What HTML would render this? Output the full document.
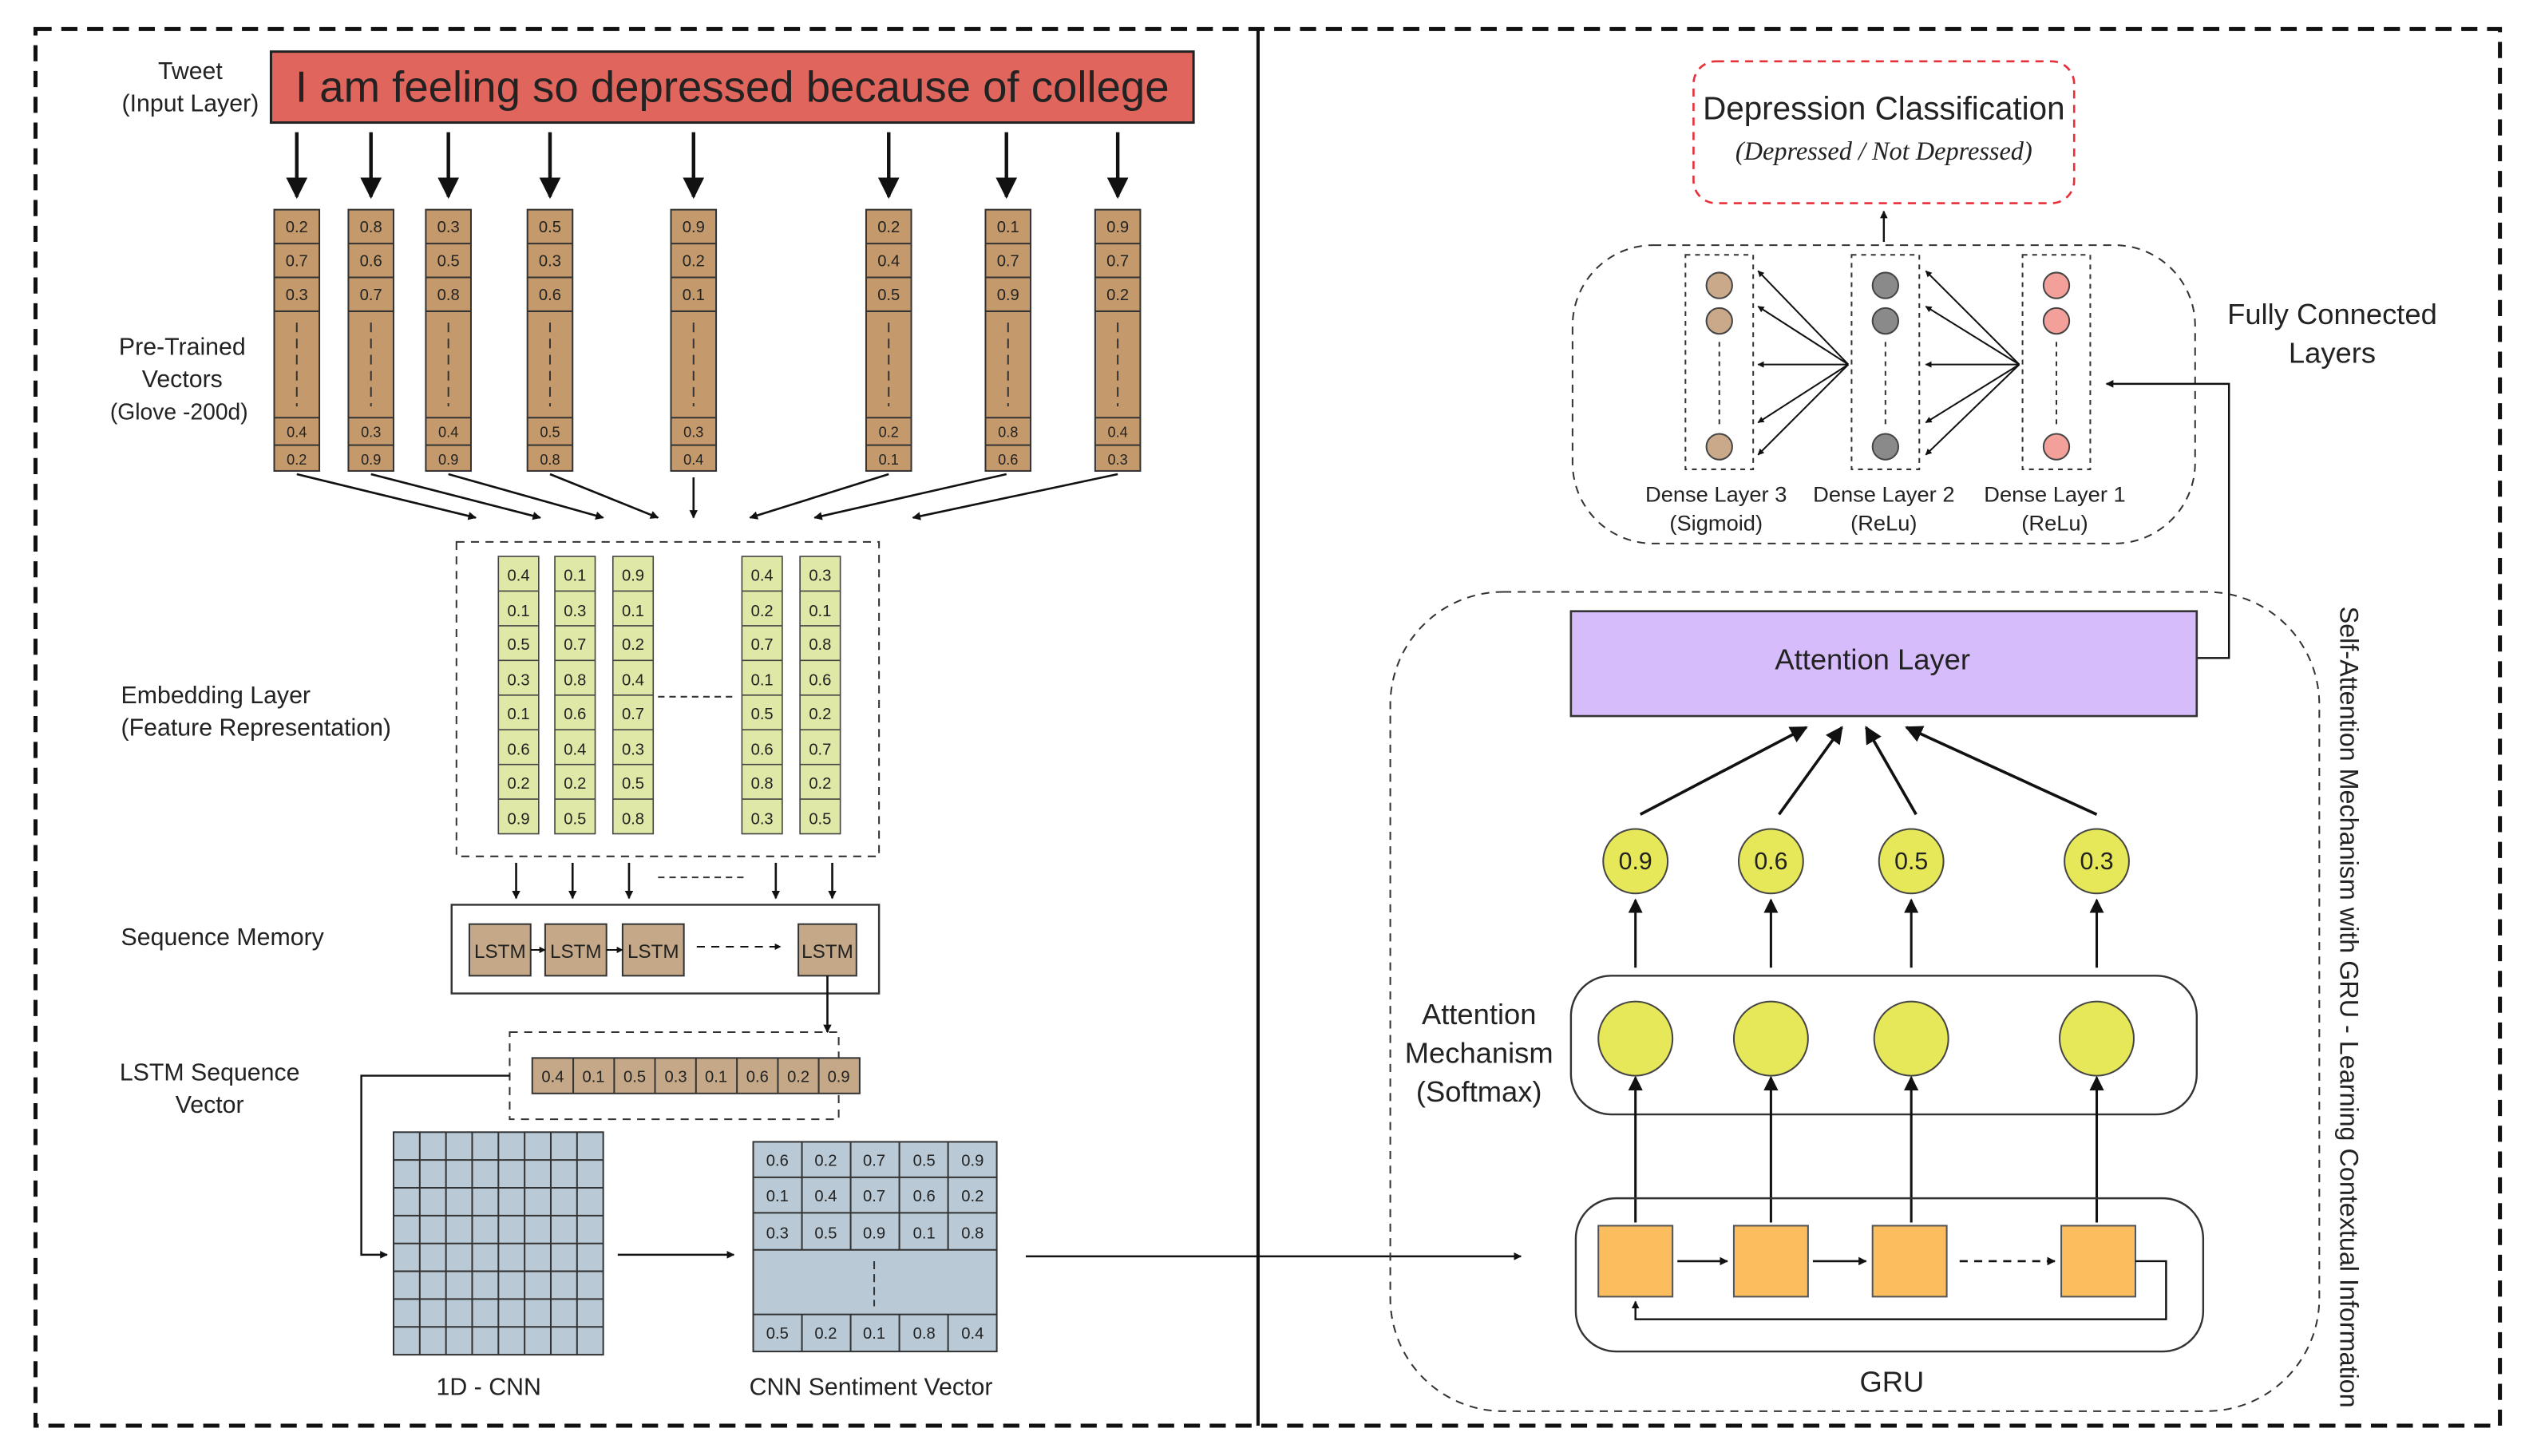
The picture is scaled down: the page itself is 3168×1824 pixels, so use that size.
<!DOCTYPE html>
<html><head><meta charset="utf-8"><style>
html,body{margin:0;padding:0;background:#fff}
svg{display:block}
text{font-family:"Liberation Sans",sans-serif;fill:#222}
</style></head><body>
<svg width="3168" height="1824" viewBox="0 0 1568 902.8" xmlns="http://www.w3.org/2000/svg">
<defs>
<marker id="a" viewBox="0 0 10 10" refX="9" refY="5" markerWidth="6" markerHeight="6" orient="auto-start-reverse"><path d="M0,0L10,5L0,10z" fill="#111"/></marker>
<marker id="b" viewBox="0 0 10 10" refX="9" refY="5" markerWidth="4" markerHeight="4" orient="auto-start-reverse"><path d="M0,0L10,5L0,10z" fill="#111"/></marker>
</defs>
<rect x="22" y="18" width="1528" height="866" fill="none" stroke="#111" stroke-width="2.5" stroke-dasharray="10,6"/>
<line x1="780" y1="18" x2="780" y2="884" stroke="#111" stroke-width="2"/>

<!-- Tweet -->
<text x="118" y="49" font-size="15" text-anchor="middle">Tweet</text>
<text x="118" y="69" font-size="15" text-anchor="middle">(Input Layer)</text>
<rect x="168" y="32" width="572" height="44" fill="#e0655c" stroke="#222" stroke-width="1.5"/>
<text x="454" y="63" font-size="27" text-anchor="middle" fill="#111">I am feeling so depressed because of college</text>
<g stroke="#111" stroke-width="2.2" marker-end="url(#a)">
<line x1="184" y1="82" x2="184" y2="122"/><line x1="230" y1="82" x2="230" y2="122"/><line x1="278" y1="82" x2="278" y2="122"/><line x1="341" y1="82" x2="341" y2="122"/><line x1="430" y1="82" x2="430" y2="122"/><line x1="551" y1="82" x2="551" y2="122"/><line x1="624" y1="82" x2="624" y2="122"/><line x1="693" y1="82" x2="693" y2="122"/>
</g>

<text x="113" y="220" font-size="15" text-anchor="middle">Pre-Trained</text>
<text x="113" y="240" font-size="15" text-anchor="middle">Vectors</text>
<text x="111" y="260" font-size="14" text-anchor="middle">(Glove -200d)</text>

<g font-size="10" text-anchor="middle">
<!-- pretrained columns -->
<g id="pc">
</g>
</g>
<g stroke="#333" stroke-width="1" font-size="10" text-anchor="middle">
<!-- col template via repeated groups -->
<g transform="translate(170,130)"><rect width="28" height="162" fill="#c49a6c"/><line x1="0" y1="21" x2="28" y2="21"/><line x1="0" y1="42" x2="28" y2="42"/><line x1="0" y1="63" x2="28" y2="63"/><line x1="0" y1="129" x2="28" y2="129"/><line x1="0" y1="146" x2="28" y2="146"/><line x1="14" y1="70" x2="14" y2="122" stroke-dasharray="6,4"/><text x="14" y="14" stroke="none">0.2</text><text x="14" y="35" stroke="none">0.7</text><text x="14" y="56" stroke="none">0.3</text><text x="14" y="141" stroke="none" font-size="9">0.4</text><text x="14" y="158" stroke="none" font-size="9">0.2</text></g>
<g transform="translate(216,130)"><rect width="28" height="162" fill="#c49a6c"/><line x1="0" y1="21" x2="28" y2="21"/><line x1="0" y1="42" x2="28" y2="42"/><line x1="0" y1="63" x2="28" y2="63"/><line x1="0" y1="129" x2="28" y2="129"/><line x1="0" y1="146" x2="28" y2="146"/><line x1="14" y1="70" x2="14" y2="122" stroke-dasharray="6,4"/><text x="14" y="14" stroke="none">0.8</text><text x="14" y="35" stroke="none">0.6</text><text x="14" y="56" stroke="none">0.7</text><text x="14" y="141" stroke="none" font-size="9">0.3</text><text x="14" y="158" stroke="none" font-size="9">0.9</text></g>
<g transform="translate(264,130)"><rect width="28" height="162" fill="#c49a6c"/><line x1="0" y1="21" x2="28" y2="21"/><line x1="0" y1="42" x2="28" y2="42"/><line x1="0" y1="63" x2="28" y2="63"/><line x1="0" y1="129" x2="28" y2="129"/><line x1="0" y1="146" x2="28" y2="146"/><line x1="14" y1="70" x2="14" y2="122" stroke-dasharray="6,4"/><text x="14" y="14" stroke="none">0.3</text><text x="14" y="35" stroke="none">0.5</text><text x="14" y="56" stroke="none">0.8</text><text x="14" y="141" stroke="none" font-size="9">0.4</text><text x="14" y="158" stroke="none" font-size="9">0.9</text></g>
<g transform="translate(327,130)"><rect width="28" height="162" fill="#c49a6c"/><line x1="0" y1="21" x2="28" y2="21"/><line x1="0" y1="42" x2="28" y2="42"/><line x1="0" y1="63" x2="28" y2="63"/><line x1="0" y1="129" x2="28" y2="129"/><line x1="0" y1="146" x2="28" y2="146"/><line x1="14" y1="70" x2="14" y2="122" stroke-dasharray="6,4"/><text x="14" y="14" stroke="none">0.5</text><text x="14" y="35" stroke="none">0.3</text><text x="14" y="56" stroke="none">0.6</text><text x="14" y="141" stroke="none" font-size="9">0.5</text><text x="14" y="158" stroke="none" font-size="9">0.8</text></g>
<g transform="translate(416,130)"><rect width="28" height="162" fill="#c49a6c"/><line x1="0" y1="21" x2="28" y2="21"/><line x1="0" y1="42" x2="28" y2="42"/><line x1="0" y1="63" x2="28" y2="63"/><line x1="0" y1="129" x2="28" y2="129"/><line x1="0" y1="146" x2="28" y2="146"/><line x1="14" y1="70" x2="14" y2="122" stroke-dasharray="6,4"/><text x="14" y="14" stroke="none">0.9</text><text x="14" y="35" stroke="none">0.2</text><text x="14" y="56" stroke="none">0.1</text><text x="14" y="141" stroke="none" font-size="9">0.3</text><text x="14" y="158" stroke="none" font-size="9">0.4</text></g>
<g transform="translate(537,130)"><rect width="28" height="162" fill="#c49a6c"/><line x1="0" y1="21" x2="28" y2="21"/><line x1="0" y1="42" x2="28" y2="42"/><line x1="0" y1="63" x2="28" y2="63"/><line x1="0" y1="129" x2="28" y2="129"/><line x1="0" y1="146" x2="28" y2="146"/><line x1="14" y1="70" x2="14" y2="122" stroke-dasharray="6,4"/><text x="14" y="14" stroke="none">0.2</text><text x="14" y="35" stroke="none">0.4</text><text x="14" y="56" stroke="none">0.5</text><text x="14" y="141" stroke="none" font-size="9">0.2</text><text x="14" y="158" stroke="none" font-size="9">0.1</text></g>
<g transform="translate(611,130)"><rect width="28" height="162" fill="#c49a6c"/><line x1="0" y1="21" x2="28" y2="21"/><line x1="0" y1="42" x2="28" y2="42"/><line x1="0" y1="63" x2="28" y2="63"/><line x1="0" y1="129" x2="28" y2="129"/><line x1="0" y1="146" x2="28" y2="146"/><line x1="14" y1="70" x2="14" y2="122" stroke-dasharray="6,4"/><text x="14" y="14" stroke="none">0.1</text><text x="14" y="35" stroke="none">0.7</text><text x="14" y="56" stroke="none">0.9</text><text x="14" y="141" stroke="none" font-size="9">0.8</text><text x="14" y="158" stroke="none" font-size="9">0.6</text></g>
<g transform="translate(679,130)"><rect width="28" height="162" fill="#c49a6c"/><line x1="0" y1="21" x2="28" y2="21"/><line x1="0" y1="42" x2="28" y2="42"/><line x1="0" y1="63" x2="28" y2="63"/><line x1="0" y1="129" x2="28" y2="129"/><line x1="0" y1="146" x2="28" y2="146"/><line x1="14" y1="70" x2="14" y2="122" stroke-dasharray="6,4"/><text x="14" y="14" stroke="none">0.9</text><text x="14" y="35" stroke="none">0.7</text><text x="14" y="56" stroke="none">0.2</text><text x="14" y="141" stroke="none" font-size="9">0.4</text><text x="14" y="158" stroke="none" font-size="9">0.3</text></g>
</g>
<g stroke="#111" stroke-width="1.3" marker-end="url(#b)">
<line x1="184" y1="294" x2="295" y2="321"/><line x1="230" y1="294" x2="335" y2="321"/><line x1="278" y1="294" x2="374" y2="321"/><line x1="341" y1="294" x2="408" y2="321"/><line x1="430" y1="296" x2="430" y2="321"/><line x1="551" y1="294" x2="465" y2="321"/><line x1="624" y1="294" x2="505" y2="321"/><line x1="693" y1="294" x2="566" y2="321"/>
</g>

<!-- Embedding -->
<text x="75" y="436" font-size="15">Embedding Layer</text>
<text x="75" y="456" font-size="15">(Feature Representation)</text>
<rect x="283" y="336" width="262" height="195" fill="none" stroke="#333" stroke-dasharray="5,4"/>
<g stroke="#444" stroke-width="0.8" font-size="10" text-anchor="middle">
<g transform="translate(309,345)"><rect width="25" height="172" fill="#dfe8a6"/><line x1="0" y1="21.5" x2="25" y2="21.5"/><line x1="0" y1="43" x2="25" y2="43"/><line x1="0" y1="64.5" x2="25" y2="64.5"/><line x1="0" y1="86" x2="25" y2="86"/><line x1="0" y1="107.5" x2="25" y2="107.5"/><line x1="0" y1="129" x2="25" y2="129"/><line x1="0" y1="150.5" x2="25" y2="150.5"/><g stroke="none"><text x="12.5" y="15">0.4</text><text x="12.5" y="37">0.1</text><text x="12.5" y="58">0.5</text><text x="12.5" y="80">0.3</text><text x="12.5" y="101">0.1</text><text x="12.5" y="123">0.6</text><text x="12.5" y="144">0.2</text><text x="12.5" y="166">0.9</text></g></g>
<g transform="translate(344,345)"><rect width="25" height="172" fill="#dfe8a6"/><line x1="0" y1="21.5" x2="25" y2="21.5"/><line x1="0" y1="43" x2="25" y2="43"/><line x1="0" y1="64.5" x2="25" y2="64.5"/><line x1="0" y1="86" x2="25" y2="86"/><line x1="0" y1="107.5" x2="25" y2="107.5"/><line x1="0" y1="129" x2="25" y2="129"/><line x1="0" y1="150.5" x2="25" y2="150.5"/><g stroke="none"><text x="12.5" y="15">0.1</text><text x="12.5" y="37">0.3</text><text x="12.5" y="58">0.7</text><text x="12.5" y="80">0.8</text><text x="12.5" y="101">0.6</text><text x="12.5" y="123">0.4</text><text x="12.5" y="144">0.2</text><text x="12.5" y="166">0.5</text></g></g>
<g transform="translate(380,345)"><rect width="25" height="172" fill="#dfe8a6"/><line x1="0" y1="21.5" x2="25" y2="21.5"/><line x1="0" y1="43" x2="25" y2="43"/><line x1="0" y1="64.5" x2="25" y2="64.5"/><line x1="0" y1="86" x2="25" y2="86"/><line x1="0" y1="107.5" x2="25" y2="107.5"/><line x1="0" y1="129" x2="25" y2="129"/><line x1="0" y1="150.5" x2="25" y2="150.5"/><g stroke="none"><text x="12.5" y="15">0.9</text><text x="12.5" y="37">0.1</text><text x="12.5" y="58">0.2</text><text x="12.5" y="80">0.4</text><text x="12.5" y="101">0.7</text><text x="12.5" y="123">0.3</text><text x="12.5" y="144">0.5</text><text x="12.5" y="166">0.8</text></g></g>
<g transform="translate(460,345)"><rect width="25" height="172" fill="#dfe8a6"/><line x1="0" y1="21.5" x2="25" y2="21.5"/><line x1="0" y1="43" x2="25" y2="43"/><line x1="0" y1="64.5" x2="25" y2="64.5"/><line x1="0" y1="86" x2="25" y2="86"/><line x1="0" y1="107.5" x2="25" y2="107.5"/><line x1="0" y1="129" x2="25" y2="129"/><line x1="0" y1="150.5" x2="25" y2="150.5"/><g stroke="none"><text x="12.5" y="15">0.4</text><text x="12.5" y="37">0.2</text><text x="12.5" y="58">0.7</text><text x="12.5" y="80">0.1</text><text x="12.5" y="101">0.5</text><text x="12.5" y="123">0.6</text><text x="12.5" y="144">0.8</text><text x="12.5" y="166">0.3</text></g></g>
<g transform="translate(496,345)"><rect width="25" height="172" fill="#dfe8a6"/><line x1="0" y1="21.5" x2="25" y2="21.5"/><line x1="0" y1="43" x2="25" y2="43"/><line x1="0" y1="64.5" x2="25" y2="64.5"/><line x1="0" y1="86" x2="25" y2="86"/><line x1="0" y1="107.5" x2="25" y2="107.5"/><line x1="0" y1="129" x2="25" y2="129"/><line x1="0" y1="150.5" x2="25" y2="150.5"/><g stroke="none"><text x="12.5" y="15">0.3</text><text x="12.5" y="37">0.1</text><text x="12.5" y="58">0.8</text><text x="12.5" y="80">0.6</text><text x="12.5" y="101">0.2</text><text x="12.5" y="123">0.7</text><text x="12.5" y="144">0.2</text><text x="12.5" y="166">0.5</text></g></g>
</g>
<line x1="408" y1="432" x2="456" y2="432" stroke="#333" stroke-dasharray="4,3"/>
<g stroke="#111" stroke-width="1.3" marker-end="url(#b)">
<line x1="320" y1="535" x2="320" y2="557"/><line x1="355" y1="535" x2="355" y2="557"/><line x1="390" y1="535" x2="390" y2="557"/><line x1="481" y1="535" x2="481" y2="557"/><line x1="516" y1="535" x2="516" y2="557"/>
</g>
<line x1="408" y1="544" x2="462" y2="544" stroke="#333" stroke-dasharray="4,3"/>

<!-- LSTM -->
<text x="75" y="586" font-size="15">Sequence Memory</text>
<rect x="280" y="561" width="265" height="55" fill="#fff" stroke="#333" stroke-width="1.2"/>
<g fill="#c4a888" stroke="#333">
<rect x="291" y="573" width="38" height="32"/><rect x="338" y="573" width="38" height="32"/><rect x="386" y="573" width="38" height="32"/><rect x="495" y="573" width="36" height="32"/>
</g>
<g font-size="12" text-anchor="middle"><text x="310" y="594">LSTM</text><text x="357" y="594">LSTM</text><text x="405" y="594">LSTM</text><text x="513" y="594">LSTM</text></g>
<g stroke="#111" stroke-width="1" marker-end="url(#b)"><line x1="329" y1="589" x2="338" y2="589"/><line x1="376" y1="589" x2="386" y2="589"/><line x1="432" y1="587" x2="484" y2="587" stroke-dasharray="5,4"/><line x1="513" y1="605" x2="513" y2="640" stroke-width="1.3"/></g>

<text x="130" y="670" font-size="15" text-anchor="middle">LSTM Sequence</text>
<text x="130" y="690" font-size="15" text-anchor="middle">Vector</text>
<rect x="316" y="640" width="204" height="54" fill="none" stroke="#333" stroke-dasharray="5,4"/>
<g stroke="#333" fill="#c4a888"><rect x="330" y="656" width="203" height="22"/>
<line x1="355.4" y1="656" x2="355.4" y2="678"/><line x1="380.8" y1="656" x2="380.8" y2="678"/><line x1="406.1" y1="656" x2="406.1" y2="678"/><line x1="431.5" y1="656" x2="431.5" y2="678"/><line x1="456.9" y1="656" x2="456.9" y2="678"/><line x1="482.3" y1="656" x2="482.3" y2="678"/><line x1="507.6" y1="656" x2="507.6" y2="678"/></g>
<g font-size="10" text-anchor="middle"><text x="342.7" y="671">0.4</text><text x="368" y="671">0.1</text><text x="393.5" y="671">0.5</text><text x="419" y="671">0.3</text><text x="444" y="671">0.1</text><text x="469.6" y="671">0.6</text><text x="495" y="671">0.2</text><text x="520" y="671">0.9</text></g>
<polyline points="316,667 224,667 224,778 240,778" fill="none" stroke="#111" stroke-width="1.2" marker-end="url(#b)"/>

<!-- CNN grid -->
<rect x="244" y="702" width="130" height="138" fill="#b9c9d5" stroke="#333"/>
<g stroke="#333" stroke-width="1">
<line x1="260.25" y1="702" x2="260.25" y2="840"/><line x1="276.5" y1="702" x2="276.5" y2="840"/><line x1="292.75" y1="702" x2="292.75" y2="840"/><line x1="309" y1="702" x2="309" y2="840"/><line x1="325.25" y1="702" x2="325.25" y2="840"/><line x1="341.5" y1="702" x2="341.5" y2="840"/><line x1="357.75" y1="702" x2="357.75" y2="840"/>
<line x1="244" y1="719.25" x2="374" y2="719.25"/><line x1="244" y1="736.5" x2="374" y2="736.5"/><line x1="244" y1="753.75" x2="374" y2="753.75"/><line x1="244" y1="771" x2="374" y2="771"/><line x1="244" y1="788.25" x2="374" y2="788.25"/><line x1="244" y1="805.5" x2="374" y2="805.5"/><line x1="244" y1="822.75" x2="374" y2="822.75"/>
</g>
<text x="303" y="865" font-size="15" text-anchor="middle">1D - CNN</text>
<line x1="383" y1="778" x2="455" y2="778" stroke="#111" stroke-width="1.2" marker-end="url(#b)"/>

<rect x="467" y="708" width="151" height="130" fill="#b9c9d5" stroke="#333"/>
<g stroke="#333">
<line x1="467" y1="730" x2="618" y2="730"/><line x1="467" y1="752" x2="618" y2="752"/><line x1="467" y1="775" x2="618" y2="775"/><line x1="467" y1="815" x2="618" y2="815"/>
<line x1="497.2" y1="708" x2="497.2" y2="775"/><line x1="527.4" y1="708" x2="527.4" y2="775"/><line x1="557.6" y1="708" x2="557.6" y2="775"/><line x1="587.8" y1="708" x2="587.8" y2="775"/>
<line x1="497.2" y1="815" x2="497.2" y2="838"/><line x1="527.4" y1="815" x2="527.4" y2="838"/><line x1="557.6" y1="815" x2="557.6" y2="838"/><line x1="587.8" y1="815" x2="587.8" y2="838"/>
<line x1="542" y1="782" x2="542" y2="810" stroke-dasharray="5,3"/>
</g>
<g font-size="10" text-anchor="middle">
<text x="482" y="723">0.6</text><text x="512" y="723">0.2</text><text x="542" y="723">0.7</text><text x="573" y="723">0.5</text><text x="603" y="723">0.9</text>
<text x="482" y="745">0.1</text><text x="512" y="745">0.4</text><text x="542" y="745">0.7</text><text x="573" y="745">0.6</text><text x="603" y="745">0.2</text>
<text x="482" y="768">0.3</text><text x="512" y="768">0.5</text><text x="542" y="768">0.9</text><text x="573" y="768">0.1</text><text x="603" y="768">0.8</text>
<text x="482" y="830">0.5</text><text x="512" y="830">0.2</text><text x="542" y="830">0.1</text><text x="573" y="830">0.8</text><text x="603" y="830">0.4</text>
</g>
<text x="540" y="865" font-size="15" text-anchor="middle">CNN Sentiment Vector</text>
<line x1="636" y1="779" x2="943" y2="779" stroke="#111" stroke-width="1.2" marker-end="url(#b)"/>

<!-- Right side -->
<rect x="1050" y="38" width="236" height="88" rx="14" fill="none" stroke="#e8303a" stroke-width="1.3" stroke-dasharray="5,4"/>
<text x="1168" y="74" font-size="20" text-anchor="middle">Depression Classification</text>
<text x="1168" y="99" font-size="16" font-style="italic" text-anchor="middle" style="font-family:'Liberation Serif',serif">(Depressed / Not Depressed)</text>
<line x1="1168" y1="150" x2="1168" y2="131" stroke="#111" stroke-width="1.2" marker-end="url(#b)"/>

<rect x="975" y="152" width="386" height="185" rx="50" fill="none" stroke="#333" stroke-dasharray="5,4"/>
<g fill="none" stroke="#333" stroke-dasharray="3,3"><rect x="1045" y="158" width="42" height="133"/><rect x="1148" y="158" width="42" height="133"/><rect x="1254" y="158" width="42" height="133"/>
<line x1="1066" y1="212" x2="1066" y2="266"/><line x1="1169" y1="212" x2="1169" y2="266"/><line x1="1275" y1="212" x2="1275" y2="266"/></g>
<g stroke="#444"><circle cx="1066" cy="177" r="8" fill="#c9a98a"/><circle cx="1066" cy="199" r="8" fill="#c9a98a"/><circle cx="1066" cy="277" r="8" fill="#c9a98a"/>
<circle cx="1169" cy="177" r="8" fill="#8a8a8a"/><circle cx="1169" cy="199" r="8" fill="#8a8a8a"/><circle cx="1169" cy="277" r="8" fill="#8a8a8a"/>
<circle cx="1275" cy="177" r="8" fill="#f4a09a"/><circle cx="1275" cy="199" r="8" fill="#f4a09a"/><circle cx="1275" cy="277" r="8" fill="#f4a09a"/></g>
<g stroke="#111" stroke-width="1" marker-end="url(#b)">
<line x1="1146" y1="226" x2="1090" y2="168"/><line x1="1146" y1="226" x2="1090" y2="190"/><line x1="1146" y1="226" x2="1090" y2="226"/><line x1="1146" y1="226" x2="1090" y2="262"/><line x1="1146" y1="226" x2="1090" y2="282"/>
<line x1="1252" y1="226" x2="1194" y2="168"/><line x1="1252" y1="226" x2="1194" y2="190"/><line x1="1252" y1="226" x2="1194" y2="226"/><line x1="1252" y1="226" x2="1194" y2="262"/><line x1="1252" y1="226" x2="1194" y2="282"/>
</g>
<g font-size="13.5" text-anchor="middle">
<text x="1064" y="311">Dense Layer 3</text><text x="1064" y="329">(Sigmoid)</text>
<text x="1168" y="311">Dense Layer 2</text><text x="1168" y="329">(ReLu)</text>
<text x="1274" y="311">Dense Layer 1</text><text x="1274" y="329">(ReLu)</text>
</g>
<text x="1446" y="201" font-size="18" text-anchor="middle">Fully Connected</text>
<text x="1446" y="225" font-size="18" text-anchor="middle">Layers</text>
<polyline points="1362,408 1382,408 1382,238 1306,238" fill="none" stroke="#111" stroke-width="1.2" marker-end="url(#b)"/>

<rect x="862" y="367" width="576" height="508" rx="70" fill="none" stroke="#333" stroke-dasharray="5,4"/>
<text transform="translate(1451,376) rotate(90)" font-size="16">Self-Attention Mechanism with GRU - Learning Contextual Information</text>
<rect x="974" y="379" width="388" height="65" fill="#d6bcfa" stroke="#333" stroke-width="1.3"/>
<text x="1161" y="415" font-size="18" text-anchor="middle">Attention Layer</text>
<g stroke="#111" stroke-width="1.8" marker-end="url(#a)">
<line x1="1017" y1="505" x2="1120" y2="451"/><line x1="1103" y1="505" x2="1142" y2="451"/><line x1="1188" y1="505" x2="1157" y2="451"/><line x1="1300" y1="505" x2="1182" y2="451"/>
</g>
<g stroke="#444" fill="#e6e85a"><circle cx="1014" cy="534" r="20"/><circle cx="1098" cy="534" r="20"/><circle cx="1185" cy="534" r="20"/><circle cx="1300" cy="534" r="20"/></g>
<g font-size="15" text-anchor="middle"><text x="1014" y="539">0.9</text><text x="1098" y="539">0.6</text><text x="1185" y="539">0.5</text><text x="1300" y="539">0.3</text></g>
<g stroke="#111" stroke-width="1.5" marker-end="url(#a)">
<line x1="1014" y1="600" x2="1014" y2="558"/><line x1="1098" y1="600" x2="1098" y2="558"/><line x1="1185" y1="600" x2="1185" y2="558"/><line x1="1300" y1="600" x2="1300" y2="558"/>
</g>
<rect x="974" y="605" width="388" height="86" rx="25" fill="none" stroke="#333" stroke-width="1.2"/>
<g stroke="#444" fill="#e6e85a"><circle cx="1014" cy="644" r="23"/><circle cx="1098" cy="644" r="23"/><circle cx="1185" cy="644" r="23"/><circle cx="1300" cy="644" r="23"/></g>
<g font-size="18" text-anchor="middle"><text x="917" y="635">Attention</text><text x="917" y="659">Mechanism</text><text x="917" y="683">(Softmax)</text></g>
<g stroke="#111" stroke-width="1.5" marker-end="url(#a)">
<line x1="1014" y1="758" x2="1014" y2="668"/><line x1="1098" y1="758" x2="1098" y2="668"/><line x1="1185" y1="758" x2="1185" y2="668"/><line x1="1300" y1="758" x2="1300" y2="668"/>
</g>
<rect x="977" y="743" width="389" height="95" rx="25" fill="none" stroke="#333" stroke-width="1.2"/>
<g fill="#fbbd5e" stroke="#555"><rect x="991" y="760" width="46" height="44"/><rect x="1075" y="760" width="46" height="44"/><rect x="1161" y="760" width="46" height="44"/><rect x="1278" y="760" width="46" height="44"/></g>
<g stroke="#111" stroke-width="1.3" marker-end="url(#b)">
<line x1="1040" y1="782" x2="1071" y2="782"/><line x1="1124" y1="782" x2="1157" y2="782"/><line x1="1215" y1="782" x2="1274" y2="782" stroke-dasharray="5,4"/>
</g>
<polyline points="1324,782 1343,782 1343,818 1014,818 1014,807" fill="none" stroke="#111" stroke-width="1.2" marker-end="url(#b)"/>
<text x="1173" y="863" font-size="18" text-anchor="middle">GRU</text>
</svg>
</body></html>
